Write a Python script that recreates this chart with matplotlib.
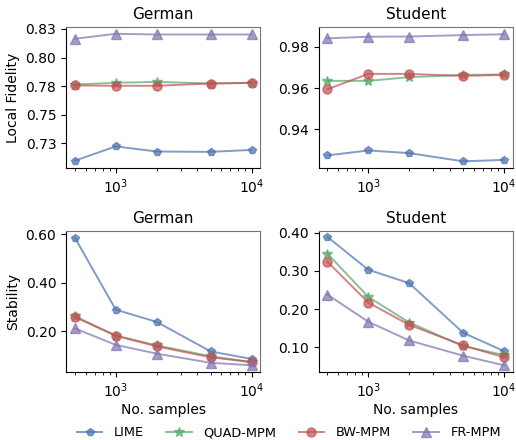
import matplotlib
matplotlib.use("Agg")
import matplotlib.pyplot as plt
import numpy as np

# ── data ─────────────────────────────────────────
samples = [500, 1000, 2000, 5000, 10000]
methods = ["LIME", "QUAD-MPM", "BW-MPM", "FR-MPM"]

german_fid = {
    "LIME":     [0.7099, 0.7224, 0.7179, 0.7176, 0.7193],
    "QUAD-MPM": [0.7764, 0.7779, 0.7787, 0.7773, 0.7779],
    "BW-MPM":   [0.7756, 0.7753, 0.7753, 0.7773, 0.7779],
    "FR-MPM":   [0.8164, 0.8207, 0.8201, 0.8201, 0.8201],
}
student_fid = {
    "LIME":     [0.9272, 0.9296, 0.9283, 0.9243, 0.9250],
    "QUAD-MPM": [0.9635, 0.9635, 0.9653, 0.9664, 0.9666],
    "BW-MPM":   [0.9594, 0.9669, 0.9669, 0.9659, 0.9664],
    "FR-MPM":   [0.9842, 0.9850, 0.9851, 0.9858, 0.9862],
}
german_stab = {
    "LIME":     [0.585, 0.288, 0.238, 0.116, 0.085],
    "QUAD-MPM": [0.261, 0.181, 0.141, 0.096, 0.072],
    "BW-MPM":   [0.258, 0.181, 0.137, 0.092, 0.072],
    "FR-MPM":   [0.211, 0.143, 0.107, 0.069, 0.059],
}
student_stab = {
    "LIME":     [0.389, 0.303, 0.268, 0.138, 0.090],
    "QUAD-MPM": [0.345, 0.232, 0.165, 0.103, 0.080],
    "BW-MPM":   [0.324, 0.217, 0.159, 0.105, 0.074],
    "FR-MPM":   [0.238, 0.167, 0.118, 0.078, 0.053],
}

german_fid_ticks = [0.725, 0.75, 0.775, 0.80, 0.825]
german_fid_labels = ["0.73", "0.75", "0.78", "0.80", "0.83"]
student_fid_ticks = [0.94, 0.96, 0.98]
german_stab_ticks = [0.2, 0.4, 0.6]
student_stab_ticks = [0.1, 0.2, 0.3, 0.4]

# ── style ────────────────────────────────────────
colors = {"LIME": "#4C72B0", "QUAD-MPM": "#55A868",
          "BW-MPM": "#C44E52", "FR-MPM": "#8172B2"}
markers = {"LIME": "p", "QUAD-MPM": "*", "BW-MPM": "o", "FR-MPM": "^"}
msizes = {"LIME": 6, "QUAD-MPM": 7, "BW-MPM": 6.5, "FR-MPM": 6.5}

plt.rcParams["font.family"] = "DejaVu Sans"
plt.rcParams["font.size"] = 10

fig, axes = plt.subplots(2, 2, figsize=(5.16, 4.4), dpi=100)
fig.subplots_adjust(left=0.128, right=0.994, top=0.938, bottom=0.155,
                    wspace=0.3, hspace=0.45)

panels = [
    (axes[0, 0], german_fid, "German"),
    (axes[0, 1], student_fid, "Student"),
    (axes[1, 0], german_stab, "German"),
    (axes[1, 1], student_stab, "Student"),
]

handles = []
for ax, data, title in panels:
    for m in methods:
        h, = ax.plot(samples, data[m], color=colors[m], marker=markers[m],
                     markersize=msizes[m], linewidth=1.4, alpha=0.7, label=m)
        if ax is axes[0, 0]:
            handles.append(h)
    ax.set_xscale("log")
    ax.set_title(title, fontsize=11)
    ax.spines["top"].set_color("0.45")
    ax.spines["right"].set_color("0.45")

axes[0, 0].set_ylim(0.7036, 0.8264)
axes[0, 0].set_yticks(german_fid_ticks)
axes[0, 0].set_yticklabels(german_fid_labels)
axes[0, 0].set_ylabel("Local Fidelity")

axes[0, 1].set_ylim(0.9211, 0.9896)
axes[0, 1].set_yticks(student_fid_ticks)
axes[0, 1].set_yticklabels([f"{t:.2f}" for t in student_fid_ticks])

axes[1, 0].set_ylim(0.032, 0.612)
axes[1, 0].set_yticks(german_stab_ticks)
axes[1, 0].set_yticklabels([f"{t:.2f}" for t in german_stab_ticks])
axes[1, 0].set_ylabel("Stability")
axes[1, 0].set_xlabel("No. samples", labelpad=2)

axes[1, 1].set_ylim(0.036, 0.404)
axes[1, 1].set_yticks(student_stab_ticks)
axes[1, 1].set_yticklabels([f"{t:.2f}" for t in student_stab_ticks])
axes[1, 1].set_xlabel("No. samples", labelpad=2)

fig.legend(handles, methods, loc="lower center", ncol=4, frameon=False,
           bbox_to_anchor=(0.56, -0.025), handlelength=2.0, columnspacing=1.7,
           handletextpad=0.9, fontsize=9.3, markerscale=1.0)

fig.savefig("out.png", dpi=100)
